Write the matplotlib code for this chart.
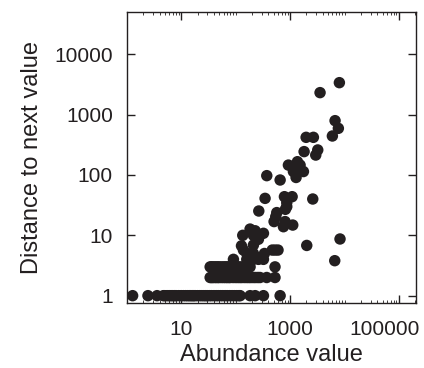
import numpy as np
import matplotlib
matplotlib.use('Agg')
import matplotlib.pyplot as plt
import matplotlib.transforms as mtransforms
from matplotlib.ticker import LogLocator, FixedLocator, FixedFormatter, NullFormatter

plt.rcParams['font.family'] = ['Liberation Sans', 'DejaVu Sans']

# distance == 1
x_d1 = [1.28, 2.45, 3.6, 4.7, 5, 5.5, 6, 6.5, 7, 7.5, 8, 9, 10, 11, 12, 13, 14, 15, 16, 17,
        18, 20, 22, 24, 26, 28, 30, 33, 36, 40, 44, 48, 53, 58, 64, 70, 78, 86, 95, 105,
        115, 121, 184, 228, 324, 656]
# distance == 2
x_d2 = [34, 36, 38, 41, 44, 47, 50, 55, 60, 65, 70, 75, 80, 90, 100, 110, 120, 130, 145,
        160, 175, 190, 210, 230, 255, 280, 372, 528]
# distance == 3
x_d3 = [34, 36, 38, 41, 44, 47, 50, 55, 60, 65, 70, 75, 80, 90, 100, 110, 120, 135, 150,
        165, 184, 528]

# remaining scattered points
x_other = [91, 160, 175, 190, 212, 262, 324,
           128, 139, 160, 212, 338, 470, 531, 600,
           135, 212, 262, 324, 184, 228, 212,
           266, 508, 545, 569, 809, 755, 1119,
           347, 869, 787, 1090, 869, 820, 2608, 2023,
           373, 656, 931, 1364, 1526, 1151, 1288, 1758,
           1808, 3220, 2960, 1970, 2680, 5980, 6700, 7700,
           3550, 8040, 8260, 6610]
y_other = [4, 4, 4, 4, 4, 4, 4,
           6.7, 5.7, 5.0, 5.0, 5.0, 5.7, 5.7, 5.7,
           10, 10, 8.6, 10.8, 12.7, 11.9, 6.9,
           25.3, 16.9, 20.4, 23.8, 16.9, 13.9, 14.8,
           41, 34.8, 43.7, 43.7, 29.9, 27, 40, 6.8,
           97.5, 82.6, 146, 166, 146, 114, 91, 114,
           244, 260, 214, 421, 421, 443, 795, 593,
           2317, 3390, 8.7, 3.8]

x_ticks = [10, 1000, 100000]
x_labels = ['10', '1000', '100000']
y_ticks = [1, 10, 100, 1000, 10000]
y_labels = ['1', '10', '100', '1000', '10000']

xs = np.concatenate([x_d1, x_d2, x_d3, x_other])
ys = np.concatenate([np.ones(len(x_d1)), np.full(len(x_d2), 2.0),
                     np.full(len(x_d3), 3.0), y_other])

fig = plt.figure(figsize=(4.24, 3.68), dpi=100)
ax = fig.add_axes([0.299, 0.177, 0.682, 0.790])

ax.scatter(xs, ys, s=68, color='#231f20', edgecolors='none', zorder=3)

ax.set_xscale('log')
ax.set_yscale('log')
ax.set_xlim(1.0, 2.05e5)
ax.set_ylim(0.76, 50000)

ax.xaxis.set_major_locator(FixedLocator(x_ticks))
ax.xaxis.set_major_formatter(FixedFormatter(x_labels))
ax.xaxis.set_minor_locator(LogLocator(base=10, subs=np.arange(1, 10), numticks=20))
ax.xaxis.set_minor_formatter(NullFormatter())

ax.yaxis.set_major_locator(FixedLocator(y_ticks))
ax.yaxis.set_major_formatter(FixedFormatter(y_labels))
ax.yaxis.set_minor_locator(FixedLocator([]))

ax.tick_params(which='both', direction='in', top=True, right=True, colors='#231f20')
ax.tick_params(which='major', length=6, width=1, labelsize=15)
ax.tick_params(axis='y', which='major', pad=10)
ax.tick_params(axis='x', which='major', pad=12)
ax.tick_params(which='minor', length=2.5, width=0.6)

for sp in ax.spines.values():
    sp.set_linewidth(1.0)
    sp.set_color('#231f20')

# last x tick label is pulled left so it stays inside the figure
fig.canvas.draw()
last = ax.get_xticklabels()[-1]
last.set_transform(last.get_transform() + mtransforms.ScaledTranslation(-14 / 100, 0, fig.dpi_scale_trans))

ax.set_xlabel('Abundance value', fontsize=17, color='#231f20', labelpad=4)
ax.set_ylabel('Distance to next value', fontsize=17, color='#231f20', labelpad=8)

fig.savefig('out.png', dpi=100)
